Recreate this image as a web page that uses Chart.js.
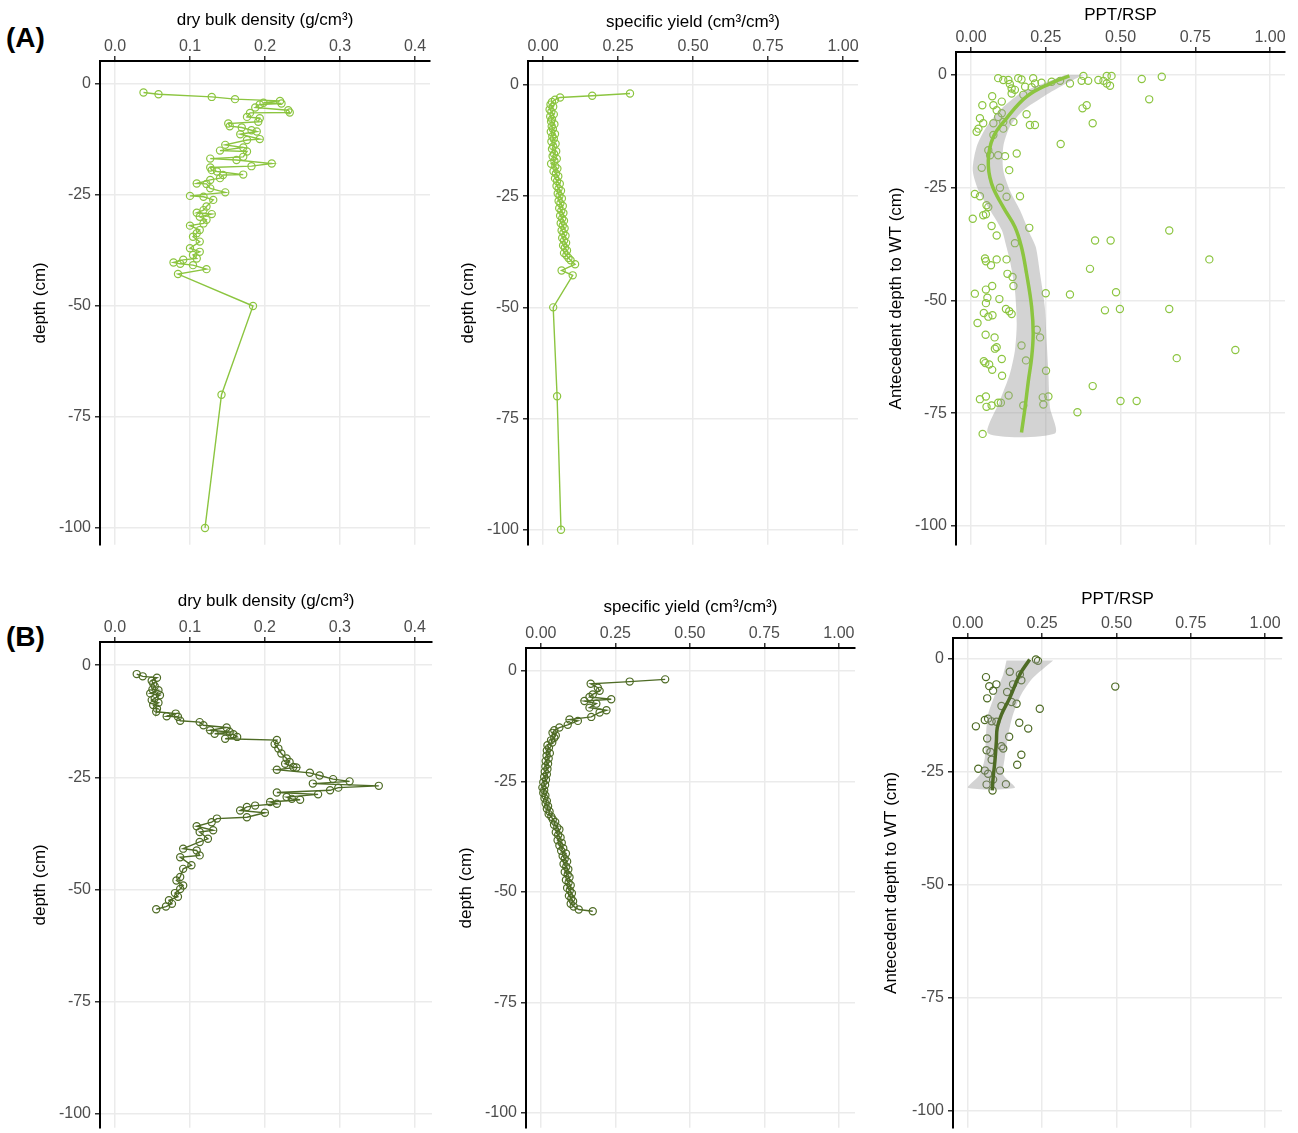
<!DOCTYPE html>
<html>
<head>
<meta charset="utf-8">
<script src="https://cdn.jsdelivr.net/npm/chart.js@4/dist/chart.umd.min.js"></script>
<style>
  body { margin: 0; background: #fff; width: 1298px; height: 1133px; position: relative; overflow: hidden; font-family: "Liberation Sans", Arial, sans-serif; }
  .p { position: absolute; }
  .lab { position: absolute; left: 6px; font-weight: bold; font-size: 28px; color: #000; }
</style>
</head>
<body>
<div class="lab" style="top:22px">(A)</div>
<div class="lab" style="top:621px">(B)</div>
<div class="p" style="left:0;top:0;width:440px;height:550px"><canvas id="a1"></canvas></div>
<div class="p" style="left:440px;top:0;width:428px;height:550px"><canvas id="a2"></canvas></div>
<div class="p" style="left:868px;top:0;width:430px;height:550px"><canvas id="a3"></canvas></div>
<div class="p" style="left:0;top:581px;width:442px;height:552px"><canvas id="b1"></canvas></div>
<div class="p" style="left:440px;top:587px;width:425px;height:546px"><canvas id="b2"></canvas></div>
<div class="p" style="left:865px;top:586px;width:430px;height:547px"><canvas id="b3"></canvas></div>
<script>
// tick labels
const depthTicks = [0, -25, -50, -75, -100];
const densityTicks = [0, 0.1, 0.2, 0.3, 0.4];
const ratioTicks = [0, 0.25, 0.5, 0.75, 1];

// (A) dry bulk density [g/cm3, depth cm]
const densityA = [[0.038,-1.9],[0.058,-2.3],[0.129,-2.9],[0.160,-3.4],[0.220,-3.8],[0.198,-4.2],[0.222,-4.4],[0.193,-4.6],[0.187,-5.3],[0.231,-5.9],[0.233,-6.4],[0.180,-6.5],[0.176,-7.4],[0.193,-7.7],[0.191,-8.5],[0.151,-8.9],[0.153,-9.5],[0.169,-9.8],[0.182,-10.4],[0.189,-10.7],[0.167,-11.3],[0.193,-12.4],[0.176,-12.6],[0.147,-13.7],[0.171,-14.3],[0.140,-15.0],[0.176,-15.2],[0.171,-16.4],[0.127,-16.8],[0.162,-17.1],[0.209,-17.9],[0.182,-18.5],[0.127,-18.8],[0.129,-19.4],[0.136,-19.7],[0.171,-20.4],[0.144,-20.5],[0.140,-21.2],[0.127,-21.6],[0.109,-22.4],[0.122,-22.5],[0.127,-23.5],[0.147,-24.4],[0.100,-25.2],[0.118,-25.4],[0.131,-26.1],[0.122,-27.6],[0.118,-28.4],[0.109,-29.0],[0.129,-29.3],[0.113,-29.9],[0.122,-30.6],[0.118,-31.4],[0.100,-31.9],[0.113,-32.9],[0.109,-33.6],[0.104,-34.4],[0.113,-35.5],[0.100,-37.0],[0.113,-37.8],[0.104,-38.5],[0.109,-39.3],[0.091,-39.6],[0.078,-40.2],[0.087,-40.5],[0.104,-40.8],[0.122,-41.7],[0.084,-42.8],[0.184,-50.0],[0.142,-70.0],[0.120,-100.0]];

// (A) specific yield [cm3/cm3, depth cm]
const yieldA = [[0.290,-1.9],[0.164,-2.4],[0.057,-2.8],[0.040,-3.3],[0.030,-3.8],[0.025,-4.4],[0.034,-4.9],[0.022,-5.5],[0.028,-6.0],[0.036,-6.6],[0.024,-7.1],[0.030,-7.7],[0.027,-8.2],[0.038,-8.8],[0.029,-9.3],[0.033,-9.9],[0.026,-10.5],[0.040,-11.0],[0.031,-11.6],[0.036,-12.1],[0.028,-12.7],[0.042,-13.2],[0.034,-13.8],[0.030,-14.4],[0.044,-14.9],[0.037,-15.5],[0.032,-16.0],[0.046,-16.6],[0.038,-17.1],[0.027,-17.7],[0.041,-18.3],[0.048,-18.8],[0.035,-19.4],[0.043,-19.9],[0.051,-20.5],[0.040,-21.0],[0.047,-21.6],[0.056,-22.2],[0.045,-22.7],[0.052,-23.3],[0.060,-23.8],[0.049,-24.4],[0.055,-24.9],[0.063,-25.5],[0.052,-26.1],[0.058,-26.6],[0.066,-27.2],[0.054,-27.7],[0.061,-28.3],[0.068,-28.8],[0.057,-29.4],[0.064,-30.0],[0.070,-30.5],[0.059,-31.1],[0.066,-31.6],[0.072,-32.2],[0.062,-32.7],[0.068,-33.3],[0.075,-33.9],[0.064,-34.4],[0.070,-35.0],[0.077,-35.5],[0.067,-36.1],[0.073,-36.6],[0.080,-37.2],[0.070,-37.8],[0.078,-38.3],[0.085,-38.9],[0.092,-39.4],[0.107,-40.3],[0.062,-41.7],[0.099,-42.8],[0.034,-50.0],[0.047,-70.0],[0.060,-100.0]];

// (A) PPT/RSP vs antecedent depth to WT
const ratioA = [[0.091,-0.7],[0.108,-1.1],[0.125,-1.1],[0.130,-2.0],[0.136,-3.0],[0.147,-3.3],[0.136,-4.1],[0.158,-0.7],[0.169,-1.0],[0.181,-2.6],[0.175,-4.4],[0.208,-0.7],[0.214,-1.9],[0.236,-1.7],[0.203,-2.7],[0.270,-1.5],[0.298,-1.3],[0.331,-1.9],[0.376,-0.2],[0.370,-1.3],[0.392,-1.3],[0.426,-1.1],[0.443,-1.3],[0.454,-0.2],[0.470,-0.2],[0.454,-1.9],[0.465,-2.4],[0.571,-0.9],[0.638,-0.4],[0.596,-5.4],[0.387,-6.7],[0.373,-7.4],[0.407,-10.7],[0.300,-15.3],[0.071,-4.7],[0.038,-6.7],[0.075,-6.7],[0.103,-5.9],[0.086,-7.8],[0.103,-8.5],[0.091,-9.3],[0.030,-9.6],[0.041,-10.7],[0.025,-11.9],[0.019,-12.6],[0.075,-10.7],[0.108,-10.4],[0.142,-10.4],[0.186,-8.7],[0.197,-11.1],[0.214,-11.1],[0.108,-11.9],[0.075,-13.3],[0.058,-16.7],[0.064,-17.8],[0.091,-17.8],[0.114,-18.0],[0.153,-17.4],[0.128,-21.1],[0.036,-20.6],[0.097,-25.0],[0.013,-26.4],[0.030,-26.9],[0.119,-27.0],[0.164,-26.9],[0.052,-28.9],[0.058,-29.3],[0.050,-30.9],[0.041,-31.1],[0.006,-31.9],[0.069,-33.5],[0.086,-35.6],[0.195,-33.9],[0.147,-37.3],[0.415,-36.7],[0.467,-36.7],[0.663,-34.5],[0.047,-40.7],[0.086,-40.9],[0.119,-40.9],[0.797,-40.9],[0.050,-41.3],[0.067,-42.2],[0.122,-44.1],[0.139,-44.8],[0.142,-46.8],[0.398,-43.0],[0.071,-46.8],[0.050,-47.6],[0.013,-48.5],[0.055,-49.4],[0.050,-50.6],[0.095,-49.7],[0.117,-51.9],[0.128,-52.4],[0.136,-53.0],[0.043,-52.8],[0.058,-53.6],[0.072,-53.3],[0.022,-55.0],[0.250,-48.4],[0.331,-48.7],[0.485,-48.2],[0.448,-52.2],[0.498,-51.9],[0.663,-51.9],[0.220,-56.5],[0.231,-58.2],[0.049,-57.6],[0.079,-58.2],[0.080,-60.7],[0.086,-60.4],[0.169,-60.0],[0.103,-63.0],[0.043,-63.5],[0.048,-63.9],[0.061,-64.2],[0.071,-65.4],[0.184,-63.3],[0.104,-66.7],[0.251,-65.6],[0.884,-61.0],[0.688,-62.8],[0.407,-69.0],[0.030,-71.9],[0.050,-71.3],[0.126,-71.1],[0.052,-73.6],[0.069,-73.3],[0.091,-72.7],[0.100,-72.7],[0.175,-73.3],[0.240,-71.5],[0.259,-71.3],[0.242,-73.1],[0.500,-72.3],[0.554,-72.3],[0.356,-74.8],[0.039,-79.6]];
const smoothA = [[0.329,-0.2],[0.264,-1.9],[0.186,-4.8],[0.119,-9.6],[0.075,-13.7],[0.058,-18.9],[0.069,-24.1],[0.108,-29.3],[0.147,-33.7],[0.169,-38.2],[0.186,-44.1],[0.203,-51.5],[0.208,-57.4],[0.203,-62.6],[0.192,-67.8],[0.181,-73.7],[0.169,-79.3]];
const bandA = [[0.314,0.0],[0.242,-1.9],[0.164,-4.1],[0.097,-7.8],[0.052,-11.5],[0.019,-15.9],[0.006,-21.1],[0.025,-25.6],[0.064,-30.0],[0.103,-34.4],[0.119,-38.2],[0.130,-41.1],[0.147,-47.8],[0.153,-55.2],[0.147,-61.1],[0.130,-66.3],[0.097,-72.2],[0.058,-79.5],[0.281,-79.5],[0.264,-73.7],[0.259,-66.3],[0.253,-58.9],[0.247,-51.5],[0.231,-44.1],[0.217,-38.2],[0.197,-35.2],[0.164,-30.0],[0.130,-25.6],[0.108,-21.1],[0.108,-15.9],[0.130,-11.5],[0.175,-7.8],[0.242,-4.8],[0.298,-2.6],[0.353,-0.7],[0.376,0.0]];

// (B) dry bulk density
const densityB = [[0.029,-2.0],[0.037,-2.5],[0.056,-2.8],[0.049,-3.5],[0.051,-4.1],[0.053,-4.7],[0.050,-5.4],[0.058,-5.6],[0.047,-6.3],[0.060,-6.7],[0.053,-7.4],[0.049,-7.8],[0.058,-8.4],[0.051,-8.9],[0.056,-9.7],[0.055,-10.4],[0.081,-10.8],[0.069,-11.4],[0.084,-11.5],[0.087,-12.4],[0.113,-12.7],[0.118,-13.4],[0.149,-13.9],[0.127,-14.5],[0.153,-14.9],[0.133,-15.3],[0.158,-15.4],[0.163,-16.0],[0.147,-16.4],[0.216,-16.7],[0.213,-17.6],[0.218,-18.6],[0.222,-19.7],[0.229,-20.8],[0.233,-21.6],[0.227,-22.0],[0.238,-22.7],[0.242,-22.8],[0.216,-23.3],[0.260,-24.0],[0.273,-24.6],[0.291,-25.4],[0.313,-25.9],[0.264,-26.4],[0.352,-26.9],[0.298,-27.3],[0.287,-27.9],[0.216,-28.4],[0.271,-28.8],[0.229,-29.4],[0.236,-29.8],[0.247,-30.0],[0.207,-30.5],[0.216,-30.9],[0.187,-31.3],[0.176,-31.6],[0.167,-32.4],[0.200,-32.9],[0.176,-33.9],[0.136,-34.2],[0.129,-35.0],[0.109,-35.9],[0.131,-36.8],[0.113,-37.2],[0.124,-38.7],[0.113,-39.4],[0.091,-40.9],[0.109,-41.3],[0.113,-42.4],[0.087,-42.8],[0.102,-44.6],[0.091,-45.4],[0.087,-47.2],[0.082,-48.0],[0.091,-49.1],[0.087,-49.9],[0.080,-50.8],[0.084,-51.6],[0.072,-52.4],[0.076,-53.2],[0.068,-53.8],[0.055,-54.4]];

// (B) specific yield
const yieldB = [[0.417,-1.9],[0.298,-2.4],[0.167,-2.9],[0.191,-3.8],[0.197,-4.5],[0.174,-5.3],[0.163,-5.9],[0.236,-6.4],[0.146,-6.8],[0.186,-7.4],[0.163,-8.3],[0.220,-8.9],[0.197,-9.4],[0.169,-10.4],[0.096,-11.0],[0.124,-11.3],[0.090,-12.2],[0.062,-12.8],[0.045,-13.4],[0.039,-14.0],[0.050,-14.6],[0.045,-15.1],[0.034,-15.7],[0.038,-16.2],[0.022,-16.8],[0.027,-17.4],[0.020,-18.0],[0.030,-18.6],[0.019,-19.2],[0.026,-19.8],[0.016,-20.4],[0.024,-21.0],[0.015,-21.6],[0.022,-22.2],[0.013,-22.8],[0.020,-23.4],[0.011,-24.0],[0.017,-24.6],[0.008,-25.2],[0.014,-25.8],[0.005,-26.4],[0.011,-27.0],[0.008,-27.6],[0.015,-28.2],[0.012,-28.8],[0.020,-29.4],[0.016,-30.0],[0.024,-30.6],[0.020,-31.2],[0.029,-31.8],[0.026,-32.4],[0.035,-33.0],[0.040,-33.6],[0.048,-34.2],[0.044,-34.8],[0.055,-35.4],[0.062,-35.9],[0.050,-36.5],[0.058,-37.1],[0.066,-37.7],[0.056,-38.3],[0.070,-38.9],[0.062,-39.5],[0.075,-40.1],[0.068,-40.7],[0.084,-41.3],[0.073,-41.9],[0.080,-42.5],[0.088,-43.1],[0.076,-43.7],[0.085,-44.3],[0.092,-44.9],[0.080,-45.5],[0.090,-46.1],[0.096,-46.7],[0.084,-47.3],[0.093,-47.9],[0.100,-48.5],[0.088,-49.1],[0.097,-49.7],[0.104,-50.3],[0.094,-50.9],[0.102,-51.5],[0.108,-52.1],[0.100,-52.7],[0.110,-53.3],[0.127,-54.0],[0.174,-54.4]];

// (B) PPT/RSP
const ratioB = [[0.229,-0.1],[0.236,-0.4],[0.141,-2.8],[0.175,-3.4],[0.180,-4.7],[0.061,-4.0],[0.072,-6.0],[0.096,-5.6],[0.085,-7.0],[0.152,-5.6],[0.065,-8.7],[0.132,-7.3],[0.147,-9.5],[0.164,-9.9],[0.113,-10.4],[0.242,-11.0],[0.057,-13.5],[0.068,-13.2],[0.080,-13.8],[0.096,-13.9],[0.027,-14.9],[0.173,-14.1],[0.203,-15.4],[0.065,-17.6],[0.139,-17.2],[0.063,-20.2],[0.076,-20.6],[0.080,-22.3],[0.113,-19.3],[0.119,-19.8],[0.180,-21.2],[0.166,-23.4],[0.035,-24.3],[0.057,-24.7],[0.108,-24.7],[0.068,-25.4],[0.085,-26.7],[0.063,-27.8],[0.128,-27.7],[0.083,-29.1],[0.496,-6.1]];
const smoothB = [[0.208,-0.1],[0.175,-3.4],[0.141,-8.6],[0.113,-12.3],[0.099,-15.2],[0.096,-18.2],[0.091,-22.6],[0.085,-26.3],[0.082,-29.1]];
const bandB = [[0.130,-0.3],[0.119,-3.4],[0.096,-7.1],[0.068,-12.3],[0.061,-16.7],[0.057,-21.9],[0.040,-25.6],[0.001,-28.5],[0.158,-28.5],[0.119,-25.6],[0.124,-21.9],[0.136,-16.7],[0.152,-12.3],[0.180,-7.8],[0.220,-4.1],[0.287,-0.3]];

const LIGHT = '#8cc540';
const DARK = '#4e6b25';
const fontFamily = '"Liberation Sans", Arial, sans-serif';
const tickFont = {family: fontFamily, size: 16};
const titleFont = {family: fontFamily, size: 17};
const xy = arr => arr.map(p => ({x: p[0], y: p[1]}));

function makePanel(id, o) {
  const datasets = [];
  if (o.smooth) {
    datasets.push({data: xy(o.smooth), showLine: true, borderColor: o.color, borderWidth: 3.5, pointRadius: 0, tension: 0.4});
    datasets.push({data: xy(o.band), showLine: true, borderWidth: 0, borderColor: 'rgba(0,0,0,0)',
      backgroundColor: 'rgba(150,150,150,0.42)', fill: 'shape', pointRadius: 0, tension: 0.25});
  }
  datasets.push({data: xy(o.points), showLine: !o.smooth, borderColor: o.color, borderWidth: 1.4,
    pointRadius: 3.6, pointBorderWidth: 1.2, pointBackgroundColor: 'rgba(0,0,0,0)', pointBorderColor: o.color});

  new Chart(document.getElementById(id), {
    type: 'scatter',
    data: {datasets},
    options: {
      animation: false,
      responsive: true,
      maintainAspectRatio: false,
      layout: {padding: {left: 0, top: 0, right: o.padRight, bottom: o.padBottom}},
      plugins: {legend: {display: false}, tooltip: {enabled: false}},
      scales: {
        x: {
          type: 'linear', position: 'top', min: o.xMin, max: o.xMax,
          afterBuildTicks: s => { s.ticks = o.xTicks.map(v => ({value: v})); },
          afterFit: s => { s.height = o.xH; },
          ticks: {callback: v => v.toFixed(o.dec), font: tickFont, color: '#4d4d4d', padding: 0, maxRotation: 0, autoSkip: false},
          grid: {color: '#ebebeb', lineWidth: 1.5, tickLength: 5, tickColor: '#333', tickWidth: 1.5},
          border: {color: '#000', width: 2},
          title: {display: true, text: o.xTitle, font: titleFont, color: '#000', padding: {top: o.xTitlePad, bottom: 0}}
        },
        y: {
          type: 'linear', position: 'left', min: o.yMin, max: o.yMax,
          afterBuildTicks: s => { s.ticks = depthTicks.map(v => ({value: v})); },
          afterFit: s => { s.width = o.yW; s.paddingTop = 0; s.paddingBottom = 0; },
          ticks: {font: tickFont, color: '#4d4d4d', padding: 4, autoSkip: false},
          grid: {color: '#ebebeb', lineWidth: 1.5, tickLength: 5, tickColor: '#333', tickWidth: 1.5},
          border: {color: '#000', width: 2},
          title: {display: true, text: o.yTitle, font: titleFont, color: '#000', padding: {top: o.yTitlePad, bottom: 0}}
        }
      }
    }
  });
}

makePanel('a1', {points: densityA, color: LIGHT, xMin: -0.02, xMax: 0.42, xTicks: densityTicks, dec: 1,
  yMin: -103.8, yMax: 5.19, xH: 61, yW: 100, padRight: 10, padBottom: 2,
  xTitle: 'dry bulk density (g/cm³)', xTitlePad: 10, yTitle: 'depth (cm)', yTitlePad: 30});
makePanel('a2', {points: yieldA, color: LIGHT, xMin: -0.05, xMax: 1.05, xTicks: ratioTicks, dec: 2,
  yMin: -103.4, yMax: 5.4, xH: 61, yW: 88, padRight: 10, padBottom: 2,
  xTitle: 'specific yield (cm³/cm³)', xTitlePad: 12, yTitle: 'depth (cm)', yTitlePad: 18});
makePanel('a3', {points: ratioA, smooth: smoothA, band: bandA, color: LIGHT, xMin: -0.05, xMax: 1.05, xTicks: ratioTicks, dec: 2,
  yMin: -104.2, yMax: 5.1, xH: 52, yW: 88, padRight: 13, padBottom: 2,
  xTitle: 'PPT/RSP', xTitlePad: 5, yTitle: 'Antecedent depth to WT (cm)', yTitlePad: 18});
makePanel('b1', {points: densityB, color: DARK, xMin: -0.02, xMax: 0.423, xTicks: densityTicks, dec: 1,
  yMin: -103.1, yMax: 5.15, xH: 61, yW: 100, padRight: 10, padBottom: 0,
  xTitle: 'dry bulk density (g/cm³)', xTitlePad: 10, yTitle: 'depth (cm)', yTitlePad: 30});
makePanel('b2', {points: yieldB, color: DARK, xMin: -0.05, xMax: 1.054, xTicks: ratioTicks, dec: 2,
  yMin: -103.4, yMax: 5.2, xH: 61, yW: 86, padRight: 10, padBottom: 0,
  xTitle: 'specific yield (cm³/cm³)', xTitlePad: 10, yTitle: 'depth (cm)', yTitlePad: 16});
makePanel('b3', {points: ratioB, smooth: smoothB, band: bandB, color: DARK, xMin: -0.05, xMax: 1.057, xTicks: ratioTicks, dec: 2,
  yMin: -103.8, yMax: 4.66, xH: 52, yW: 88, padRight: 13, padBottom: 0,
  xTitle: 'PPT/RSP', xTitlePad: 3, yTitle: 'Antecedent depth to WT (cm)', yTitlePad: 16});
</script>
</body>
</html>
